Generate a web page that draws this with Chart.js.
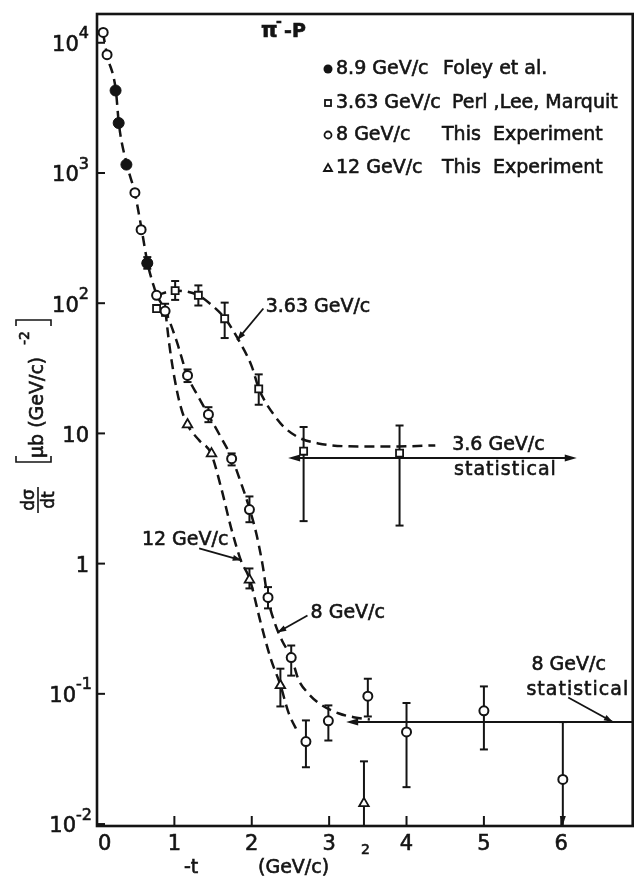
<!DOCTYPE html>
<html>
<head>
<meta charset="utf-8">
<script src="https://cdn.jsdelivr.net/npm/chart.js@4.4.1/dist/chart.umd.min.js"></script>
<style>
  html, body { margin: 0; padding: 0; background: #fff; }
  #wrap { width: 640px; height: 884px; }
</style>
</head>
<body>
<div id="wrap"><canvas id="dsdt" width="640" height="884"></canvas></div>
<script>
// pi- p elastic: -t in (GeV/c)^2, dsigma/dt in mub (GeV/c)^-2

// 8.9 GeV/c, Foley et al.
const foleyT = [0.24, 0.28, 0.38, 0.65];
const foleyV = [4300, 2420, 1160, 203];

// 8 GeV/c, this experiment
const t8 = [0.08, 0.13, 0.49, 0.57, 0.65, 0.77, 0.88, 1.17, 1.44, 1.74, 1.97, 2.21, 2.51, 2.70, 2.99, 3.50, 4.00, 5.00, 6.02];
const v8 = [12000, 8100, 706, 367, 203, 115, 87, 27.9, 14.0, 6.4, 2.6, 0.55, 0.19, 0.043, 0.062, 0.096, 0.051, 0.074, 0.022];
const lo8 = [null, null, null, null, 184, null, 80, 24.8, 12.2, 5.68, 2.08, 0.453, 0.138, 0.0273, 0.0438, 0.067, 0.0192, 0.0374, 0.0097];
const hi8 = [null, null, null, null, 226, null, 99, 31.0, 15.9, 7.02, 3.28, 0.66, 0.235, 0.0625, 0.0815, 0.1306, 0.085, 0.114, 0.0607];

// 12 GeV/c, this experiment
const t12 = [1.17, 1.48, 1.97, 2.37, 3.45];
const v12 = [11.7, 7.0, 0.75, 0.116, 0.0144];
const lo12 = [null, null, 0.645, 0.080, 0.0097];
const hi12 = [null, null, 0.918, 0.156, 0.0303];

// 3.63 GeV/c, Perl, Lee, Marquit
const t363 = [0.77, 1.01, 1.31, 1.65, 2.09, 2.67, 3.91];
const v363 = [91, 125, 115, 76, 22, 7.3, 7.06];
const lo363 = [null, 106, 96, 54, 16.6, 2.12, 1.96];
const hi363 = [null, 148, 137, 101, 28.4, 11.2, 11.5];

// hand drawn guide curves
const curveCommonT = [0.077, 0.128, 0.244, 0.282, 0.385, 0.487, 0.577, 0.654, 0.769];
const curveCommonV = [12000, 8150, 4300, 2405, 1164, 710, 369, 202, 115];
const curve8T = [0.769, 0.885, 1.026, 1.167, 1.308, 1.436, 1.603, 1.744, 1.872, 1.974, 2.064, 2.141, 2.205, 2.295, 2.397, 2.513, 2.603, 2.731, 2.872, 3.128, 3.333, 3.526];
const curve8V = [115, 86.5, 51.8, 27.9, 19.2, 14.0, 9.3, 6.43, 3.99, 2.61, 1.65, 0.97, 0.55, 0.353, 0.252, 0.190, 0.129, 0.1007, 0.0843, 0.0706, 0.0659, 0.0636];
const curve12T = [0.885, 0.936, 1.0, 1.077, 1.167, 1.321, 1.474, 1.603, 1.731, 1.859, 1.974, 2.115, 2.244, 2.372, 2.474, 2.603];
const curve12V = [86.5, 47.4, 26.9, 16.4, 11.7, 8.84, 7.01, 3.85, 1.90, 1.06, 0.757, 0.353, 0.187, 0.116, 0.072, 0.0497];
const curve363T = [0.769, 1.013, 1.308, 1.487, 1.654, 1.833, 2.0, 2.090, 2.179, 2.282, 2.410, 2.603, 2.859, 3.372, 3.885, 4.372];
const curve363V = [115, 125, 115, 96.2, 76.4, 51.8, 32.7, 22.2, 17.3, 14.0, 11.3, 9.32, 8.38, 7.94, 7.94, 8.09];

// statistical levels
const stat36T = [2.47, 6.2];
const stat36V = 6.46;
const stat8T = [3.22, 6.923];
const stat8V = 0.0607;

// axis ticks
const xTicks = [0, 1, 2, 3, 4, 5, 6];
const yDecades = [-2, -1, 0, 1, 2, 3, 4];

const INK = '#141414';
const FONT = '"DejaVu Sans", sans-serif';

const pts = (xs, ys) => xs.map((x, i) => ({ x: x, y: ys[i] }));

function curve(xs, ys) {
  return {
    type: 'line',
    data: pts(xs, ys),
    showLine: true,
    borderColor: INK,
    borderWidth: 2.5,
    borderDash: [10, 6],
    pointRadius: 0,
    cubicInterpolationMode: 'monotone',
    fill: false,
    order: 3
  };
}

function arrowHead(c, x1, y1, x2, y2, len, wid) {
  const a = Math.atan2(y2 - y1, x2 - x1);
  const ca = Math.cos(a), sa = Math.sin(a);
  c.beginPath();
  c.moveTo(x2, y2);
  c.lineTo(x2 - len * ca + wid * sa, y2 - len * sa - wid * ca);
  c.lineTo(x2 - len * ca - wid * sa, y2 - len * sa + wid * ca);
  c.closePath();
  c.fill();
}

function line(c, x1, y1, x2, y2) {
  c.beginPath();
  c.moveTo(x1, y1);
  c.lineTo(x2, y2);
  c.stroke();
}

// lettering is heavy, so fill and trace each string
function ink(c, s, x, y) {
  const lw = c.lineWidth;
  c.lineWidth = 0.6;
  c.fillText(s, x, y);
  c.strokeText(s, x, y);
  c.lineWidth = lw;
}

// text with a raised exponent, right edge at xr
function supText(c, base, sup, xr, y, size, supSize) {
  c.font = supSize + 'px ' + FONT;
  const ws = sup ? c.measureText(sup).width : 0;
  c.font = size + 'px ' + FONT;
  const wb = c.measureText(base).width;
  c.textAlign = 'left';
  c.textBaseline = 'middle';
  ink(c, base, xr - ws - wb, y);
  if (sup) {
    c.font = supSize + 'px ' + FONT;
    ink(c, sup, xr - ws, y - size * 0.55);
  }
}

const errorBars = {
  id: 'errorBars',
  beforeDatasetsDraw(chart) {
    const c = chart.ctx, xs = chart.scales.x, ys = chart.scales.y;
    c.save();
    c.strokeStyle = INK;
    c.lineWidth = 2;
    const groups = [[t8, lo8, hi8], [t12, lo12, hi12], [t363, lo363, hi363]];
    groups.forEach(([tt, lo, hi]) => {
      tt.forEach((t, i) => {
        if (lo[i] == null) return;
        const x = xs.getPixelForValue(t);
        const y1 = Math.min(ys.getPixelForValue(lo[i]), chart.chartArea.bottom);
        const y2 = ys.getPixelForValue(hi[i]);
        line(c, x, y1, x, y2);
        line(c, x - 4, y2, x + 4, y2);
        if (y1 < chart.chartArea.bottom - 1) line(c, x - 4, y1, x + 4, y1);
      });
    });
    // lower limit arrow on the last 8 GeV/c point
    const xa = xs.getPixelForValue(t8[t8.length - 1]);
    c.fillStyle = INK;
    arrowHead(c, xa, 800, xa, chart.chartArea.bottom - 1, 9, 3);
    c.restore();
  }
};

const decorations = {
  id: 'decorations',
  afterDraw(chart) {
    const c = chart.ctx, xs = chart.scales.x, ys = chart.scales.y;
    const a = chart.chartArea;
    const P = (t, v) => [xs.getPixelForValue(t), ys.getPixelForValue(v)];
    c.save();
    c.strokeStyle = INK;
    c.fillStyle = INK;

    // frame
    c.lineWidth = 2.6;
    c.strokeRect(a.left, a.top, a.right - a.left, a.bottom - a.top);

    // inward ticks
    c.lineWidth = 2;
    yDecades.forEach(k => {
      const y = ys.getPixelForValue(Math.pow(10, k));
      line(c, a.left, y, a.left + 8, y);
    });
    xTicks.forEach(t => {
      if (t === 0) return;
      const x = xs.getPixelForValue(t);
      line(c, x, a.bottom, x, a.bottom - 10);
    });

    // tick labels
    c.font = '21px ' + FONT;
    c.textBaseline = 'middle';
    xTicks.forEach(t => {
      const x = xs.getPixelForValue(t);
      c.textAlign = t === 0 ? 'left' : 'center';
      ink(c, String(t), t === 0 ? x + 1 : x, a.bottom + 19);
    });
    yDecades.forEach(k => {
      const y = ys.getPixelForValue(Math.pow(10, k));
      const base = k === 0 ? '1' : '10';
      const sup = (k === 0 || k === 1) ? '' : (k < 0 ? '-' + (-k) : String(k));
      supText(c, base, sup, k < 0 ? 92 : 89, y + 3, 21, 16);
    });

    // abscissa title
    c.font = '19px ' + FONT;
    c.textAlign = 'left';
    c.textBaseline = 'middle';
    ink(c, '-t', 184, 868);
    ink(c, '(GeV/c)', 258, 868);
    c.font = '14px ' + FONT;
    ink(c, '2', 361, 850);

    // ordinate title, rotated
    c.save();
    c.translate(38, 0);
    c.rotate(-Math.PI / 2);
    c.lineWidth = 1.6;
    line(c, -513, 0, -487, 0);
    c.font = '17px ' + FONT;
    c.textAlign = 'center';
    c.textBaseline = 'alphabetic';
    ink(c, 'dσ', -500, -4);
    c.textBaseline = 'top';
    ink(c, 'dt', -500, 3);
    c.textAlign = 'left';
    c.textBaseline = 'middle';
    c.font = '19px ' + FONT;
    ink(c, 'μb (GeV/c)', -458, 0);
    c.font = '14px ' + FONT;
    ink(c, '-2', -345, -13);
    c.restore();
    c.lineWidth = 1.6;
    c.beginPath();
    c.moveTo(16, 456); c.lineTo(16, 462); c.lineTo(51, 462); c.lineTo(51, 456);
    c.stroke();
    c.beginPath();
    c.moveTo(16, 326); c.lineTo(16, 320); c.lineTo(51, 320); c.lineTo(51, 326);
    c.stroke();

    // reaction label
    c.font = 'bold 21px ' + FONT;
    c.textAlign = 'left';
    ink(c, 'π', 261, 32);
    c.font = 'bold 14px ' + FONT;
    ink(c, '-', 276, 22);
    c.font = 'bold 19px ' + FONT;
    ink(c, '-P', 284, 32);

    // legend
    const rows = [
      { y: 69, a: '8.9 GeV/c', b: 'Foley et al.', bx: 443, mark: 'dot' },
      { y: 103, a: '3.63 GeV/c', b: 'Perl ,Lee, Marquit', bx: 452, mark: 'box' },
      { y: 135, a: '8 GeV/c', b: 'This  Experiment', bx: 442, mark: 'ring' },
      { y: 168, a: '12 GeV/c', b: 'This  Experiment', bx: 442, mark: 'tri' }
    ];
    c.font = '19px ' + FONT;
    c.textBaseline = 'middle';
    rows.forEach(r => {
      const mx = 328;
      c.lineWidth = 1.8;
      if (r.mark === 'dot') { c.beginPath(); c.arc(mx, r.y, 4.5, 0, Math.PI * 2); c.fill(); }
      if (r.mark === 'box') { c.strokeRect(mx - 3, r.y - 3, 6, 6); }
      if (r.mark === 'ring') { c.beginPath(); c.arc(mx, r.y, 3.5, 0, Math.PI * 2); c.stroke(); }
      if (r.mark === 'tri') { c.beginPath(); c.moveTo(mx, r.y - 4); c.lineTo(mx + 4, r.y + 3); c.lineTo(mx - 4, r.y + 3); c.closePath(); c.stroke(); }
      ink(c, r.a, 336, r.y);
      ink(c, r.b, r.bx, r.y);
    });

    // statistical levels with arrows
    c.lineWidth = 2;
    let [x1, y1] = P(stat36T[0], stat36V);
    let [x2] = P(stat36T[1], stat36V);
    line(c, x1 + 6, y1, x2 - 6, y1);
    arrowHead(c, x1 + 12, y1, x1, y1, 12, 3.5);
    arrowHead(c, x2 - 12, y1, x2, y1, 12, 3.5);
    [x1, y1] = P(stat8T[0], stat8V);
    [x2] = P(stat8T[1], stat8V);
    line(c, x1 + 6, y1, x2, y1);
    arrowHead(c, x1 + 12, y1, x1, y1, 12, 3.5);

    // curve labels with pointers
    const notes = [
      { text: '3.63 GeV/c', at: [2.18, 93], from: [2.15, 91], tip: [1.81, 52] },
      { text: '8 GeV/c', at: [2.76, 0.414], from: [2.72, 0.40], tip: [2.33, 0.296] },
      { text: '12 GeV/c', at: [0.58, 1.53], from: [1.32, 1.31], tip: [1.87, 1.06] },
      { text: '3.6 GeV/c', at: [4.59, 8.09] },
      { text: 'statistical', at: [4.615, 5.2], spaced: true },
      { text: '8 GeV/c', at: [5.615, 0.165] },
      { text: 'statistical', at: [5.55, 0.106], spaced: true, from: [6.09, 0.0937], tip: [6.667, 0.0607] }
    ];
    notes.forEach(n => {
      const [tx, ty] = P(n.at[0], n.at[1]);
      c.font = '19px ' + FONT;
      c.letterSpacing = n.spaced ? '1px' : '0px';
      c.textAlign = 'left';
      c.textBaseline = 'middle';
      ink(c, n.text, tx, ty);
      c.letterSpacing = '0px';
      if (n.tip) {
        const [fx, fy] = P(n.from[0], n.from[1]);
        const [px, py] = P(n.tip[0], n.tip[1]);
        c.lineWidth = 1.8;
        line(c, fx, fy, px, py);
        arrowHead(c, fx, fy, px, py, 9, 3);
      }
    });
    c.restore();
  }
};

new Chart(document.getElementById('dsdt'), {
  type: 'scatter',
  data: {
    datasets: [
      curve(curveCommonT, curveCommonV),
      curve(curve8T, curve8V),
      curve(curve12T, curve12V),
      curve(curve363T, curve363V),
      {
        label: '8.9 GeV/c  Foley et al.',
        data: pts(foleyT, foleyV),
        pointStyle: 'circle',
        pointRadius: 5.5,
        backgroundColor: INK,
        borderColor: INK,
        borderWidth: 1,
        order: 1
      },
      {
        label: '3.63 GeV/c  Perl, Lee, Marquit',
        data: pts(t363, v363),
        pointStyle: 'rect',
        pointRadius: 5,
        backgroundColor: '#fff',
        borderColor: INK,
        borderWidth: 1.8,
        order: 1
      },
      {
        label: '8 GeV/c  This Experiment',
        data: pts(t8, v8),
        pointStyle: 'circle',
        pointRadius: 4.5,
        backgroundColor: '#fff',
        borderColor: INK,
        borderWidth: 2,
        order: 2
      },
      {
        label: '12 GeV/c  This Experiment',
        data: pts(t12, v12),
        pointStyle: 'triangle',
        pointRadius: 5.5,
        backgroundColor: '#fff',
        borderColor: INK,
        borderWidth: 1.8,
        order: 1
      }
    ]
  },
  options: {
    responsive: false,
    animation: false,
    events: [],
    layout: { padding: { left: 0, right: 3, top: 14, bottom: 0 } },
    plugins: {
      legend: { display: false },
      tooltip: { enabled: false }
    },
    scales: {
      x: {
        type: 'linear',
        min: 0,
        max: 6.923,
        grid: { display: false },
        border: { display: false },
        ticks: { display: false },
        afterBuildTicks: s => { s.ticks = xTicks.map(v => ({ value: v })); },
        afterFit: s => { s.height = 58; }
      },
      y: {
        type: 'logarithmic',
        min: 0.00966,
        max: 16634,
        grid: { display: false },
        border: { display: false },
        ticks: { display: false },
        afterBuildTicks: s => { s.ticks = yDecades.map(k => ({ value: Math.pow(10, k) })); },
        afterFit: s => { s.width = 97; }
      }
    }
  },
  plugins: [errorBars, decorations]
});
</script>
</body>
</html>
